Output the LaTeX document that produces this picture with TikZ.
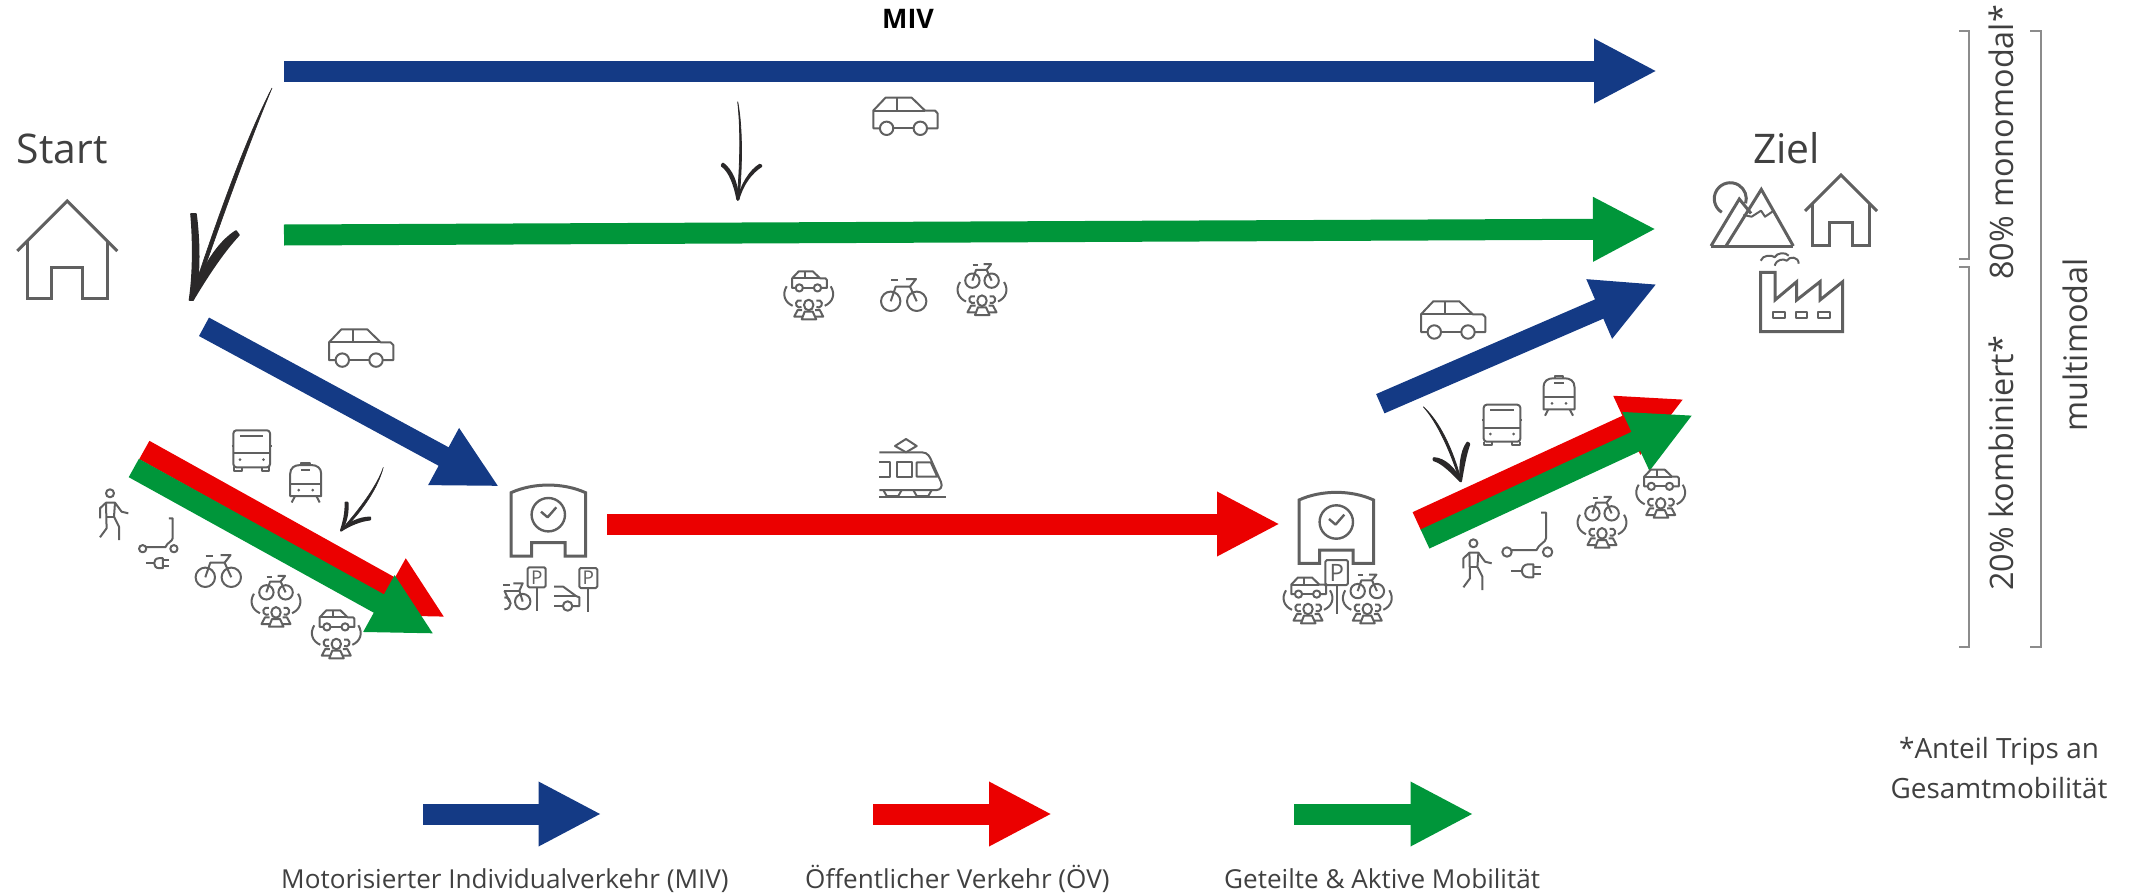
\documentclass[tikz,border=0pt]{standalone}
\usepackage{fontspec}
\usepackage{xcolor}
\usetikzlibrary{arrows.meta}
\setmainfont{Open Sans}
\definecolor{mivColor}{HTML}{143A85}
\definecolor{oevColor}{HTML}{EB0000}
\definecolor{aktivColor}{HTML}{00963A}
\definecolor{textColor}{HTML}{404040}
\definecolor{iconColor}{HTML}{606060}
\definecolor{braceColor}{HTML}{8C8C8C}
\definecolor{inkColor}{HTML}{2A2829}
\newcommand{\sized}[1]{\fontsize{#1}{#1}\selectfont}
\newcommand{\signSize}{19}
\tikzset{
  iconLine/.style={draw=iconColor, line width=2bp, line join=round},
  bigLine/.style={draw=iconColor, line width=3bp, line join=miter},
  braceLine/.style={draw=braceColor, line width=2.2bp},
  handInk/.style={fill=inkColor, draw=inkColor, line width=2.6bp, line join=round},
  fatArrow/.style={line width=21bp, -{Triangle[length=63bp, width=60bp]}},
  mivArrow/.style={fatArrow, draw=mivColor},
  oevArrow/.style={fatArrow, draw=oevColor},
  aktivArrow/.style={fatArrow, draw=aktivColor},
  labelText/.style={text=textColor, inner sep=0pt, anchor=base west},
  houseIcon/.pic={
    \draw[bigLine] (-50,0) -- (0,-50) -- (50,0);
    \draw[bigLine] (-40,-10) -- (-40,47.5) -- (-15.5,47.5) -- (-15.5,16.3) -- (15.5,16.3) -- (15.5,47.5) -- (40,47.5) -- (40,-10);
  },
  carIcon/.pic={
    \draw[iconLine] (-25.4,15) -- (-32,15) -- (-32,-2.7) -- (-19.7,-15.7) -- (6.3,-15.7) -- (19.7,-2.7) -- (29.7,-2.7) -- (32.3,0) -- (32.3,15) -- (21.7,15);
    \draw[iconLine] (-12,15) -- (8.3,15);
    \draw[iconLine] (-32,-2.7) -- (19.7,-2.7);
    \draw[iconLine] (-8,-15.7) -- (-8,-2.7);
    \draw[iconLine] (-18.7,15) circle[radius=6.7];
    \draw[iconLine] (15,15) circle[radius=6.7];
  },
  bikeIcon/.pic={
    \draw[iconLine] (-13,6.3) circle[radius=9.7];
    \draw[iconLine] (13,6.3) circle[radius=9.7];
    \draw[iconLine] (-13,6.3) -- (-8,-8.3) -- (6.3,-8.3) -- (13,6.3);
    \draw[iconLine] (6.3,-8.3) -- (12.3,-16) -- (2.3,-16);
    \draw[iconLine] (-12.7,-15) -- (-5.3,-15);
  },
  peopleIcon/.pic={
    \draw[iconLine] (-22,-8) .. controls (-27,0) and (-24,8) .. (-16,11.5);
    \draw[iconLine] (22,-8) .. controls (27,0) and (24,8) .. (16,11.5);
    \draw[iconLine] (0,10.7) ellipse[x radius=4.7, y radius=5.3];
    \draw[iconLine] (-7,25) -- (-4,17.3) -- (4,17.3) -- (7.5,25) -- cycle;
    \draw[iconLine] (-7.2,12.7) arc[start angle=60, end angle=300, radius=3.7];
    \draw[iconLine] (7.7,12.7) arc[start angle=120, end angle=-120, radius=3.7];
    \draw[iconLine] (-6.5,22.3) -- (-14.5,22.3) -- (-11,15.7) -- (-6.5,15.7);
    \draw[iconLine] (6.5,22.3) -- (14.5,22.3) -- (11,15.7) -- (6.5,15.7);
  },
  sharedCar/.pic={
    \pic[scale=.54] at (0.7,-14.5) {carIcon};
    \pic at (0,0) {peopleIcon};
  },
  sharedBike/.pic={
    \pic[scale=.74] at (0,-14) {bikeIcon};
    \pic at (0,0) {peopleIcon};
  },
  busIcon/.pic={
    \draw[iconLine, rounded corners=3bp] (-18.3,17) -- (-18.3,-20) -- (18.3,-20) -- (18.3,17) -- cycle;
    \draw[iconLine] (-18.3,3) -- (18.3,3);
    \draw[iconLine] (-11.7,-14.7) -- (11.7,-14.7);
    \fill[iconColor] (-11.7,9.3) circle[radius=1.5];
    \fill[iconColor] (11.7,9.3) circle[radius=1.5];
    \draw[iconLine] (-17.7,17) -- (-17.7,20.5) -- (-10,20.5) -- (-10,17);
    \draw[iconLine] (17.7,17) -- (17.7,20.5) -- (10,20.5) -- (10,17);
    \draw[iconLine] (-20,-4.5) -- (-18.3,-4.5);
    \draw[iconLine] (20,-4.5) -- (18.3,-4.5);
  },
  trainIcon/.pic={
    \draw[iconLine] (-15.5,13.3) -- (-15.5,-9) .. controls (-15.5,-15) and (-11,-17.7) .. (-6,-17.7) -- (6,-17.7) .. controls (11,-17.7) and (15.5,-15) .. (15.5,-9) -- (15.5,13.3) -- cycle;
    \draw[iconLine] (-15.5,1.3) -- (15.5,1.3);
    \draw[iconLine] (-4.3,-17.7) -- (-4.3,-20) -- (4.3,-20) -- (4.3,-17.7);
    \draw[iconLine] (-4.7,-12.7) -- (4.7,-12.7);
    \fill[iconColor] (-7,7.3) circle[radius=1.5];
    \fill[iconColor] (7,7.3) circle[radius=1.5];
    \draw[iconLine] (-10.7,13.3) -- (-14,19.7);
    \draw[iconLine] (10.7,13.3) -- (14,19.7);
  },
  walkerIcon/.pic={
    \draw[iconLine] (-3.3,-21.7) circle[radius=4];
    \draw[iconLine] (-13.3,3.3) -- (-13.3,-6.7) -- (-7.3,-12.3) -- (1.7,-12.3) -- (8.3,-3.3) -- (15,-1.7);
    \draw[iconLine] (-7.3,-12.3) -- (-6.7,13.3) -- (-13.3,22.3);
    \draw[iconLine] (1.7,-12.3) -- (0.7,1.7) -- (5.7,11.7) -- (5.7,25);
    \draw[iconLine] (-6.7,1.7) -- (0.7,1.7);
  },
  scooterIcon/.pic={
    \draw[iconLine] (13.7,-30.7) -- (18.7,-30.7) -- (18.7,-5) .. controls (18.7,-1) and (11,1) .. (9.3,6.7) -- (-15.7,6.7);
    \draw[iconLine] (-20.3,8.7) circle[radius=4.7];
    \draw[iconLine] (20.3,8.7) circle[radius=4.7];
    \draw[iconLine] (-16.3,27.3) -- (-5.7,27.3);
    \draw[iconLine] (6,21) -- (1,21) .. controls (-7.5,21) and (-7.5,34) .. (1,34) -- (6,34) -- cycle;
    \draw[iconLine] (6,23.8) -- (13.7,23.8);
    \draw[iconLine] (6,31) -- (13.7,31);
  },
  stationIcon/.pic={
    \draw[bigLine] (-37.3,-27.3) .. controls (-15,-37.5) and (15,-37.5) .. (37.3,-27.3) -- (37.3,36) -- (16.7,36) -- (16.7,22.7) -- (-16.7,22.7) -- (-16.7,36) -- (-37.3,36) -- cycle;
    \draw[iconLine, line width=2.4bp] (0,-5.3) circle[radius=16.7];
    \draw[iconLine, line width=2.4bp] (-7.3,-8.3) -- (-0.7,-2.7) -- (8,-12.7);
  },
  signIcon/.pic={
    \draw[iconLine, fill=white, rounded corners=1.5bp] (-9,-20) rectangle (9,0);
    \node[text=iconColor, inner sep=0pt] (signLetter) at (0,-10) {\sized{\signSize}P};
    \draw[iconLine] (0,0) -- (0,23.5);
  },
  parkBike/.pic={
    \pic at (0,0) {signIcon};
    \draw[iconLine] (-14,14.3) circle[radius=7.7];
    \draw[iconLine] (-33.3,-2.3) -- (-26.7,-2.3);
    \draw[iconLine] (-23.3,-4) -- (-14,-4) -- (-17.3,3.3) -- (-14,14.3);
    \draw[iconLine] (-32.3,3.3) -- (-17.3,3.3);
    \draw[iconLine] (-32.3,3.3) -- (-27.3,14.3);
    \draw[iconLine] (-32.3,10) .. controls (-24,10) and (-24,22) .. (-32.3,22);
  },
  parkCar/.pic={
    \pic at (0,0) {signIcon};
    \draw[iconLine] (-34.3,-1.3) -- (-25,-1.3) -- (-12.3,8) -- (-9,9.3) -- (-9,18) -- (-16,18);
    \draw[iconLine] (-34.3,8) -- (-12.3,8);
    \draw[iconLine] (-34.3,18) -- (-25.3,18);
    \draw[iconLine] (-20.7,18) circle[radius=4.7];
  },
  tramIcon/.pic={
    \draw[iconLine] (-30.7,-17.7) -- (11.7,-17.7) .. controls (18,-17.7) and (20,-13) .. (22,-8) -- (31,12) .. controls (33,17) and (30,20) .. (26.7,20) -- (-30.7,20);
    \draw[iconLine] (-30.7,26.7) -- (36,26.7);
    \draw[iconLine] (-15,-24) -- (-4,-31) -- (6.7,-24) -- (-4,-17.7) -- cycle;
    \draw[iconLine] (-30.7,-7.7) -- (-20,-7.7) -- (-20,6.7) -- (-30.7,6.7);
    \draw[iconLine] (-13.3,-7.7) rectangle (1.7,6.7);
    \draw[iconLine] (6.7,-7.7) -- (20.7,-7.7) -- (27.3,6.7) -- (6.7,6.7) -- cycle;
    \draw[iconLine] (-26.7,20) -- (-23.3,26) -- (-11.7,26) -- (-8.3,20);
    \draw[iconLine] (3.3,20) -- (6.7,26) -- (18.3,26) -- (21.7,20);
  },
  mountainIcon/.pic={
    \draw[bigLine] (-30.5,-4.4) arc[start angle=122, end angle=377, radius=16];
    \draw[bigLine] (-41.3,29.3) -- (-13,-17.7) -- (-1.3,-3.3);
    \draw[bigLine] (-26.3,29.3) -- (9,-27.3) -- (41,29.3);
    \draw[bigLine] (-41.3,29.3) -- (41,29.3);
    \draw[iconLine] (-9,-1.7) -- (-0.7,0) -- (8.7,-6) -- (12.7,0) -- (20,-5);
  },
  factoryIcon/.pic={
    \draw[bigLine] (-41,30) -- (-41,-29.3) -- (-26.7,-29.3) -- (-26.7,-1.7) -- (-5,-20) -- (-5,-1.7) -- (18.3,-20) -- (18.3,-1.7) -- (41,-20) -- (41,30) -- cycle;
    \draw[iconLine] (-28.3,10.7) rectangle (-16.7,16.7);
    \draw[iconLine] (-5.7,10.7) rectangle (5.7,16.7);
    \draw[iconLine] (16.7,10.7) rectangle (28.3,16.7);
    \draw[iconLine] (-41,-41) .. controls (-39,-47) and (-30,-47) .. (-27,-44.5) .. controls (-25,-49) and (-16,-50) .. (-13,-46);
    \draw[iconLine] (-27,-36) .. controls (-25,-43) and (-18,-43) .. (-15,-41) .. controls (-12,-46) and (-3,-45) .. (-3,-38);
  },
}

\begin{document}
\begin{tikzpicture}[x=1bp,y=-1bp]
\useasboundingbox (0,0) rectangle (2131,894);

% arrow ends
\coordinate (topStart) at (284,71);
\coordinate (topEnd) at (1657,71);
\coordinate (midStart) at (284,235);
\coordinate (midEnd) at (1656,229);
\coordinate (zubringerStart) at (204,326.8);
\coordinate (zubringerEnd) at (499,486.5);
\coordinate (linksRotStart) at (144.3,450);
\coordinate (linksRotEnd) at (445,617.3);
\coordinate (linksGruenStart) at (133.8,468);
\coordinate (linksGruenEnd) at (434,634);
\coordinate (bahnStart) at (607,524);
\coordinate (bahnEnd) at (1280,524);
\coordinate (rechtsBlauStart) at (1380.3,403.7);
\coordinate (rechtsBlauEnd) at (1657,284);
\coordinate (rechtsRotStart) at (1417,521.7);
\coordinate (rechtsRotEnd) at (1684,399);
\coordinate (rechtsGruenStart) at (1425,539);
\coordinate (rechtsGruenEnd) at (1693,415);
\coordinate (legendeMivStart) at (423,814);
\coordinate (legendeMivEnd) at (601.5,814);
\coordinate (legendeOevStart) at (873,814);
\coordinate (legendeOevEnd) at (1052,814);
\coordinate (legendeAktivStart) at (1294,814);
\coordinate (legendeAktivEnd) at (1473.5,814);

% link layer
\begin{scope}
\draw[mivArrow] (topStart) -- (topEnd);
\draw[aktivArrow] (midStart) -- (midEnd);
\draw[mivArrow] (zubringerStart) -- (zubringerEnd);
\draw[oevArrow] (linksRotStart) -- (linksRotEnd);
\draw[aktivArrow] (linksGruenStart) -- (linksGruenEnd);
\draw[oevArrow] (bahnStart) -- (bahnEnd);
\draw[mivArrow] (rechtsBlauStart) -- (rechtsBlauEnd);
\draw[oevArrow] (rechtsRotStart) -- (rechtsRotEnd);
\draw[aktivArrow] (rechtsGruenStart) -- (rechtsGruenEnd);
\draw[mivArrow] (legendeMivStart) -- (legendeMivEnd);
\draw[oevArrow] (legendeOevStart) -- (legendeOevEnd);
\draw[aktivArrow] (legendeAktivStart) -- (legendeAktivEnd);
\end{scope}

% hand arrows
\begin{scope}
\fill[handInk, line width=.6bp] (272,88) .. controls (245,140) and (215,225) .. (191,298) -- (194,298) .. controls (218,230) and (248,145) .. (272,88);
\fill[handInk, line width=1.6bp] (191,214) .. controls (193,235) and (194,270) .. (189.5,300) -- (193,300) .. controls (200,285) and (200,245) .. (196,214) -- cycle;
\fill[handInk, line width=1.6bp] (236,231) .. controls (220,241) and (205,262) .. (192,295) -- (193,300) .. controls (205,280) and (222,253) .. (239,235) -- cycle;

\fill[handInk, line width=.8bp] (737.7,101.7) .. controls (741,130) and (740,170) .. (737,199) -- (739,199) .. controls (742,170) and (743,130) .. (737.7,101.7);
\fill[handInk] (722,165.5) .. controls (730,171) and (735,185) .. (737.7,199.5) .. controls (737,182) and (731,170) .. (723,164) -- cycle;
\fill[handInk] (760,165) .. controls (750,171) and (742,185) .. (738,199.5) .. controls (743,182) and (752,172) .. (761,166) -- cycle;

\fill[handInk, line width=.5bp] (383.3,467.3) .. controls (378,484) and (360,509) .. (341,530) -- (342,531) .. controls (362,512) and (378,488) .. (383.3,467.3);
\fill[handInk, line width=2bp] (345.5,502.7) .. controls (346,512) and (344,521) .. (341,530.5) .. controls (347,521) and (348,512) .. (347.5,502.7) -- cycle;
\fill[handInk, line width=2bp] (370,517.5) .. controls (358,518) and (349,523) .. (341,530.5) .. controls (350,525) and (360,520.5) .. (370,519.5) -- cycle;

\fill[handInk, line width=.8bp] (1423.3,406.7) .. controls (1437,422) and (1450,450) .. (1459.5,480) -- (1461,480) .. controls (1453,450) and (1440,422) .. (1423.3,406.7);
\fill[handInk] (1467.5,443) .. controls (1461,452) and (1460,468) .. (1460.7,481) .. controls (1463,468) and (1465,455) .. (1469,444) -- cycle;
\fill[handInk] (1434,460) .. controls (1442,462) and (1452,472) .. (1460.7,481) .. controls (1454,468) and (1444,459) .. (1434,458.5) -- cycle;
\end{scope}

% icon layer
\begin{scope}
\pic at (67.3,251) {houseIcon};
\pic[scale=.72] at (1841,211) {houseIcon};
\pic at (1752.3,216.7) {mountainIcon};
\pic at (1801.7,301.7) {factoryIcon};
\pic at (905.3,113.3) {carIcon};
\pic at (361,345.1) {carIcon};
\pic at (1453,317) {carIcon};
\pic at (808.7,294.3) {sharedCar};
\pic at (903.7,295) {bikeIcon};
\pic at (982,290) {sharedBike};
\pic at (251.7,450.3) {busIcon};
\pic at (305.7,482.8) {trainIcon};
\pic at (113.3,515) {walkerIcon};
\pic[scale=.77] at (158.3,542) {scooterIcon};
\pic at (218.3,571) {bikeIcon};
\pic at (276,601.7) {sharedBike};
\pic at (336.3,633.3) {sharedCar};
\pic at (548.3,520) {stationIcon};
\pic at (536.7,587.3) {parkBike};
\pic at (588.3,588) {parkCar};
\pic at (910,470) {tramIcon};
\pic at (1336.3,527.3) {stationIcon};
\pic[scale=.85] at (1308,598.3) {sharedCar};
\pic[scale=.85] at (1367.3,598.3) {sharedBike};
\begin{scope}
\renewcommand{\signSize}{24}
\pic[scale=1.25] at (1336.7,585) {signIcon};
\end{scope}
\pic at (1502,424.7) {busIcon};
\pic at (1559,396) {trainIcon};
\pic at (1476.7,565) {walkerIcon};
\pic at (1527.3,543.3) {scooterIcon};
\pic at (1602,522.7) {sharedBike};
\pic at (1660.7,492.7) {sharedCar};
\end{scope}

% label layer
\begin{scope}
\node[labelText] (startLabel) at (16.6,163) {\sized{41}Start};
\node[labelText] (zielLabel) at (1753,163) {\sized{41}Ziel};
\node[labelText, anchor=base, text=black] (mivLabel) at (908,28) {\sized{27}\bfseries MIV};
\node[labelText, rotate=90] (monoLabel) at (2013,280) {\sized{32.5}80\% monomodal*};
\node[labelText, rotate=90] (kombiLabel) at (2013,591) {\sized{32.5}20\% kombiniert*};
\node[labelText, rotate=90] (multiLabel) at (2087,432) {\sized{32.5}multimodal};
\node[labelText, anchor=base] (anteilLabel) at (1999,758) {\sized{28}*Anteil Trips an};
\node[labelText, anchor=base] (gesamtLabel) at (1999,798) {\sized{28}Gesamtmobilität};
\node[labelText] (legendeMiv) at (281,888) {\sized{26.2}Motorisierter Individualverkehr (MIV)};
\node[labelText] (legendeOev) at (805,888) {\sized{26.2}Öffentlicher Verkehr (ÖV)};
\node[labelText] (legendeAktiv) at (1224,888) {\sized{26.2}Geteilte \& Aktive Mobilität};
\end{scope}

% brackets
\begin{scope}
\draw[braceLine] (1959,31) -- (1969,31) -- (1969,259) -- (1959,259);
\draw[braceLine] (1959,267) -- (1969,267) -- (1969,647) -- (1959,647);
\draw[braceLine] (2030,31) -- (2041,31) -- (2041,647) -- (2030,647);
\end{scope}
\end{tikzpicture}
\end{document}
